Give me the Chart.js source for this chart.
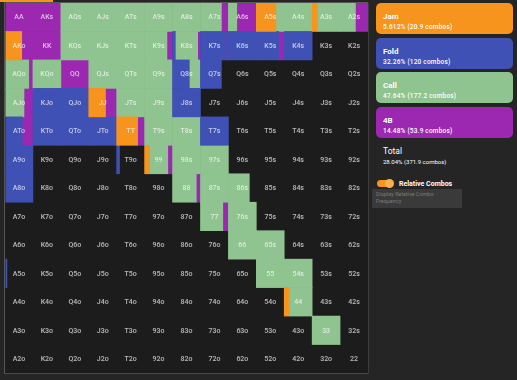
<!DOCTYPE html>
<html>
<head>
<meta charset="utf-8">
<script src="https://cdn.jsdelivr.net/npm/chart.js@4"></script>
<style>
  body { margin: 0; background: #252525; width: 517px; height: 380px; overflow: hidden; position: relative; font-family: Roboto, sans-serif; color: #fff; }
  #wrap { position: absolute; left: 0; top: 0; width: 372px; height: 378px; }
  .box { position: absolute; left: 376px; width: 137px; height: 31px; border-radius: 5px; }
  .box .t { position: absolute; left: 7px; top: 9px; font-size: 8px; font-weight: 700; }
  .box .s { position: absolute; left: 7px; top: 20px; font-size: 6.5px; font-weight: 500; letter-spacing: 0.2px; }
  #total { position: absolute; left: 383px; top: 146px; }
  #total .t { font-size: 8.5px; }
  #total .s { font-size: 6px; margin-top: 2px; }
  #toggle { position: absolute; left: 377px; top: 180px; width: 16px; height: 7px; border-radius: 4px; background: #f7941d; }
  #toggle i { position: absolute; left: 8px; top: -1px; width: 9px; height: 9px; border-radius: 50%; background: #fbb04a; }
  #tlabel { position: absolute; left: 399px; top: 180px; font-size: 7px; font-weight: 700; }
  #tip { position: absolute; left: 372px; top: 189px; width: 90px; height: 19px; background: #3a3a3a; color: #7a7a7a; font-size: 5.5px; padding: 2px 4px; box-sizing: border-box; line-height: 7px; }
  #topbar { position: absolute; left: 0; top: 0; width: 53px; height: 2px; background: #f7941d; }
</style>
</head>
<body>
<div id="topbar"></div>
<div id="wrap"><canvas id="grid"></canvas></div>

<div class="box" style="top:3px;background:#f7941d"><div class="t">Jam</div><div class="s">5.612% (20.9 combos)</div></div>
<div class="box" style="top:38px;background:#3f51b5"><div class="t">Fold</div><div class="s">32.26% (120 combos)</div></div>
<div class="box" style="top:72px;background:#8fc38f"><div class="t">Call</div><div class="s">47.64% (177.2 combos)</div></div>
<div class="box" style="top:107px;background:#9c27b0"><div class="t">4B</div><div class="s">14.48% (53.9 combos)</div></div>
<div id="total"><div class="t">Total</div><div class="s">28.04% (371.9 combos)</div></div>
<div id="toggle"><i></i></div>
<div id="tlabel">Relative Combos</div>
<div id="tip">Display Relative Combo<br>Frequency</div>

<script>
var ranks = ["A", "K", "Q", "J", "T", "9", "8", "7", "6", "5", "4", "3", "2"];

// frequencies per hand, row = first rank, column = second rank
var jam = [
  [0, 0, 0, 0, 0, 0, 0, 0, 0, 0.7, 0, 0.18, 0],
  [0.6, 0, 0, 0, 0, 0, 0, 0, 0, 0, 0, 0, 0],
  [0, 0, 0, 0, 0, 0, 0, 0, 0, 0, 0, 0, 0],
  [0, 0, 0, 0.6, 0, 0, 0, 0, 0, 0, 0, 0, 0],
  [0, 0, 0, 0, 0.75, 0, 0, 0, 0, 0, 0, 0, 0],
  [0, 0, 0, 0, 0, 0.18, 0, 0, 0, 0, 0, 0, 0],
  [0, 0, 0, 0, 0, 0, 0, 0, 0, 0, 0, 0, 0],
  [0, 0, 0, 0, 0, 0, 0, 0, 0, 0, 0, 0, 0],
  [0, 0, 0, 0, 0, 0, 0, 0, 0, 0, 0, 0, 0],
  [0, 0, 0, 0, 0, 0, 0, 0, 0, 0, 0, 0, 0],
  [0, 0, 0, 0, 0, 0, 0, 0, 0, 0, 0.18, 0, 0],
  [0, 0, 0, 0, 0, 0, 0, 0, 0, 0, 0, 0, 0],
  [0, 0, 0, 0, 0, 0, 0, 0, 0, 0, 0, 0, 0]
];
var fold = [
  [0, 0, 0, 0, 0, 0, 0, 0, 0, 0, 0, 0, 0],
  [0, 0, 0, 0, 0, 0, 0.1, 0.93, 1, 0.8, 1, 0, 0],
  [0, 0, 0, 0, 0, 0, 0.6, 0.75, 0, 0, 0, 0, 0],
  [0, 1, 1, 0, 0, 0, 1, 0, 0, 0, 0, 0, 0],
  [0.62, 1, 1, 1, 0, 0, 0, 1, 0, 0, 0, 0, 0],
  [1, 0, 0, 0, 0.1, 0, 0, 0, 0, 0, 0, 0, 0],
  [1, 0, 0, 0, 0, 0, 0, 0, 0, 0, 0, 0, 0],
  [0, 0, 0, 0, 0, 0, 0, 0, 0, 0, 0, 0, 0],
  [0, 0, 0, 0, 0, 0, 0, 0, 0, 0, 0, 0, 0],
  [0.07, 0, 0, 0, 0, 0, 0, 0, 0, 0, 0, 0, 0],
  [0, 0, 0, 0, 0, 0, 0, 0, 0, 0, 0, 0, 0],
  [0, 0, 0, 0, 0, 0, 0, 0, 0, 0, 0, 0, 0],
  [0, 0, 0, 0, 0, 0, 0, 0, 0, 0, 0, 0, 0]
];
var call = [
  [0, 0, 1, 1, 1, 1, 1, 0.75, 0.3, 0.3, 1, 0.82, 0.55],
  [0, 0, 1, 1, 1, 0.8, 0.8, 0, 0, 0, 0, 0, 0],
  [0.85, 1, 0, 1, 1, 1, 0.4, 0, 0, 0, 0, 0, 0],
  [0.68, 0, 0, 0, 1, 1, 0, 0, 0, 0, 0, 0, 0],
  [0, 0, 0, 0, 0, 1, 1, 0, 0, 0, 0, 0, 0],
  [0, 0, 0, 0, 0, 0.65, 1, 1, 0, 0, 0, 0, 0],
  [0, 0, 0, 0, 0, 0, 0.85, 1, 0.75, 0, 0, 0, 0],
  [0, 0, 0, 0, 0, 0, 0, 0.8, 1, 0, 0, 0, 0],
  [0, 0, 0, 0, 0, 0, 0, 0, 1, 1, 0, 0, 0],
  [0, 0, 0, 0, 0, 0, 0, 0, 0, 1, 1, 0, 0],
  [0, 0, 0, 0, 0, 0, 0, 0, 0, 0, 0.82, 0, 0],
  [0, 0, 0, 0, 0, 0, 0, 0, 0, 0, 0, 1, 0],
  [0, 0, 0, 0, 0, 0, 0, 0, 0, 0, 0, 0, 0]
];
var fourBet = [
  [1, 1, 0, 0, 0, 0, 0, 0.25, 0.7, 0, 0, 0, 0.45],
  [0.4, 1, 0, 0, 0, 0.2, 0.1, 0.07, 0, 0.2, 0, 0, 0],
  [0.15, 0, 1, 0, 0, 0, 0, 0, 0, 0, 0, 0, 0],
  [0.32, 0, 0, 0.4, 0, 0, 0, 0, 0, 0, 0, 0, 0],
  [0.38, 0, 0, 0, 0.25, 0, 0, 0, 0, 0, 0, 0, 0],
  [0, 0, 0, 0, 0, 0.17, 0, 0, 0, 0, 0, 0, 0],
  [0, 0, 0, 0, 0, 0, 0.15, 0, 0, 0, 0, 0, 0],
  [0, 0, 0, 0, 0, 0, 0, 0.2, 0, 0, 0, 0, 0],
  [0, 0, 0, 0, 0, 0, 0, 0, 0, 0, 0, 0, 0],
  [0, 0, 0, 0, 0, 0, 0, 0, 0, 0, 0, 0, 0],
  [0, 0, 0, 0, 0, 0, 0, 0, 0, 0, 0, 0, 0],
  [0, 0, 0, 0, 0, 0, 0, 0, 0, 0, 0, 0, 0],
  [0, 0, 0, 0, 0, 0, 0, 0, 0, 0, 0, 0, 0]
];

var actions = [
  { label: "Jam", freq: jam, color: "#f7941d" },
  { label: "Fold", freq: fold, color: "#3f51b5" },
  { label: "Call", freq: call, color: "#8fc38f" },
  { label: "4B", freq: fourBet, color: "#9c27b0" }
];

// build floating segments, laid left to right inside each cell
var datasets = actions.map(function(a) {
  return { label: a.label, data: [], backgroundColor: a.color, grouped: false, borderWidth: 0 };
});
for (var r = 0; r < 13; r++) {
  for (var c = 0; c < 13; c++) {
    var start = c;
    actions.forEach(function(a, i) {
      var f = a.freq[r][c];
      if (f > 0) {
        datasets[i].data.push({ x: [start, start + f], y: ranks[r] });
        start += f;
      }
    });
  }
}

function handName(r, c) {
  if (r == c) return ranks[r] + ranks[c];
  if (c > r) return ranks[r] + ranks[c] + "s";
  return ranks[c] + ranks[r] + "o";
}

var cellBackground = {
  id: 'cellBackground',
  beforeDatasetsDraw: function(chart) {
    var a = chart.chartArea, ctx = chart.ctx;
    ctx.save();
    ctx.fillStyle = "#1c1c1c";
    ctx.fillRect(a.left, a.top, a.right - a.left, a.bottom - a.top);
    ctx.restore();
  }
};

var cellLabels = {
  id: 'cellLabels',
  afterDatasetsDraw: function(chart) {
    var ctx = chart.ctx, xs = chart.scales.x, ys = chart.scales.y;
    ctx.save();
    ctx.font = "500 7px Roboto";
    ctx.textAlign = "center";
    ctx.textBaseline = "middle";
    ctx.fillStyle = "rgba(255,255,255,0.68)";
    for (var r = 0; r < 13; r++) {
      for (var c = 0; c < 13; c++) {
        ctx.fillText(handName(r, c), xs.getPixelForValue(c + 0.5), ys.getPixelForValue(r) + 0.5);
      }
    }
    ctx.restore();
  }
};

new Chart(document.getElementById('grid'), {
  type: 'bar',
  data: { labels: ranks, datasets: datasets },
  plugins: [cellBackground, cellLabels],
  options: {
    indexAxis: 'y',
    responsive: true,
    maintainAspectRatio: false,
    animation: false,
    barPercentage: 1,
    categoryPercentage: 1,
    layout: { padding: { left: 5, top: 3, right: 4, bottom: 5 } },
    plugins: { legend: { display: false }, tooltip: { enabled: false } },
    scales: {
      x: {
        type: 'linear', min: 0, max: 13, z: 1,
        ticks: { display: false, stepSize: 1 },
        grid: { color: "#575757", lineWidth: 1.5, drawTicks: false },
        border: { color: "#575757", width: 1.5 }
      },
      y: {
        type: 'category', offset: true, z: 1,
        ticks: { display: false },
        grid: { color: "#575757", lineWidth: 1.5, drawTicks: false, offset: true },
        border: { color: "#575757", width: 1.5 }
      }
    }
  }
});
</script>
</body>
</html>
